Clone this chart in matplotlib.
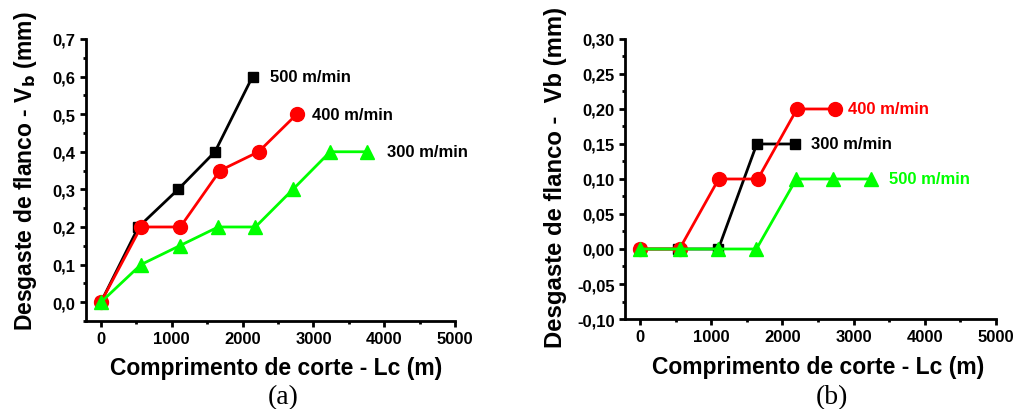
import matplotlib
matplotlib.use("Agg")
import matplotlib.pyplot as plt
from matplotlib.ticker import MultipleLocator, FuncFormatter

plt.rcParams['font.family'] = ['Liberation Sans', 'DejaVu Sans']
plt.rcParams['font.weight'] = 'bold'

# (a) tool wear vs cutting length
a_500_x = [0, 530, 1090, 1610, 2140]
a_500_y = [0.0, 0.2, 0.3, 0.4, 0.6]
a_400_x = [0, 565, 1120, 1680, 2225, 2765]
a_400_y = [0.0, 0.2, 0.2, 0.35, 0.4, 0.5]
a_300_x = [0, 565, 1110, 1655, 2180, 2710, 3235, 3750]
a_300_y = [0.0, 0.1, 0.15, 0.2, 0.2, 0.3, 0.4, 0.4]

# (b)
b_300_x = [0, 530, 1100, 1640, 2175]
b_300_y = [0.0, 0.0, 0.0, 0.15, 0.15]
b_400_x = [0, 555, 1105, 1655, 2205, 2745]
b_400_y = [0.0, 0.0, 0.1, 0.1, 0.2, 0.2]
b_500_x = [0, 555, 1100, 1635, 2195, 2710, 3240]
b_500_y = [0.0, 0.0, 0.0, 0.0, 0.1, 0.1, 0.1]

GREEN = '#00ff00'
RED = '#ff0000'


def comma_fmt(decimals):
    return FuncFormatter(lambda v, p: f"{v:.{decimals}f}".replace('.', ','))


def style_axes(ax):
    for s in ['top', 'right']:
        ax.spines[s].set_visible(False)
    for s in ['left', 'bottom']:
        ax.spines[s].set_linewidth(2)
    ax.tick_params(which='major', direction='out', length=4, width=2, labelsize=12)
    ax.tick_params(which='minor', direction='out', length=2.5, width=2)
    ax.xaxis.set_major_locator(MultipleLocator(1000))
    ax.xaxis.set_minor_locator(MultipleLocator(500))
    ax.set_xlim(-210, 5000)
    ax.set_xlabel('Comprimento de corte - Lc (m)', fontsize=16.5, fontweight='bold')
    for lab in ax.get_xticklabels() + ax.get_yticklabels():
        lab.set_fontweight('bold')


fig = plt.figure(figsize=(10.17, 4.10), dpi=100)
ax1 = fig.add_axes([0.0846, 0.2146, 0.363, 0.688])
ax2 = fig.add_axes([0.6146, 0.2195, 0.3648, 0.683])

lw = 2
ax1.plot(a_500_x, a_500_y, '-s', color='black', lw=lw, ms=7)
ax1.plot(a_400_x, a_400_y, '-o', color=RED, lw=lw, ms=10)
ax1.plot(a_300_x, a_300_y, '-^', color=GREEN, lw=lw, ms=10)
ax1.text(2380, 0.6, '500 m/min', fontsize=12, fontweight='bold', va='center')
ax1.text(2980, 0.5, '400 m/min', fontsize=12, fontweight='bold', va='center')
ax1.text(4040, 0.4, '300 m/min', fontsize=12, fontweight='bold', va='center')
ax1.set_ylim(-0.05, 0.7)
ax1.yaxis.set_major_locator(MultipleLocator(0.1))
ax1.yaxis.set_minor_locator(MultipleLocator(0.05))
ax1.yaxis.set_major_formatter(comma_fmt(1))
ax1.set_ylabel('Desgaste de flanco - V$_\\mathbf{b}$ (mm)', fontsize=16.5, fontweight='bold')
style_axes(ax1)
ax1.yaxis.set_label_coords(-0.128, 0.535)
ax1.xaxis.set_label_coords(0.515, -0.125)

ax2.plot(b_300_x, b_300_y, '-s', color='black', lw=lw, ms=7)
ax2.plot(b_400_x, b_400_y, '-o', color=RED, lw=lw, ms=10)
ax2.plot(b_500_x, b_500_y, '-^', color=GREEN, lw=lw, ms=10)
ax2.text(2920, 0.2, '400 m/min', fontsize=12, fontweight='bold', va='center', color=RED)
ax2.text(2400, 0.15, '300 m/min', fontsize=12, fontweight='bold', va='center')
ax2.text(3500, 0.1, '500 m/min', fontsize=12, fontweight='bold', va='center', color=GREEN)
ax2.set_ylim(-0.10, 0.30)
ax2.yaxis.set_major_locator(MultipleLocator(0.05))
ax2.yaxis.set_minor_locator(MultipleLocator(0.025))
ax2.yaxis.set_major_formatter(comma_fmt(2))
ax2.set_ylabel('Desgaste de flanco -  Vb (mm)', fontsize=17.2, fontweight='bold')
style_axes(ax2)
ax2.yaxis.set_label_coords(-0.156, 0.51)
ax2.xaxis.set_label_coords(0.52, -0.13)

fig.text(0.278, 0.03, '(a)', fontsize=20, fontweight='normal',
         family=['Liberation Serif', 'DejaVu Serif'], ha='center', va='center')
fig.text(0.818, 0.03, '(b)', fontsize=20, fontweight='normal',
         family=['Liberation Serif', 'DejaVu Serif'], ha='center', va='center')

fig.savefig('out.png', dpi=100)
